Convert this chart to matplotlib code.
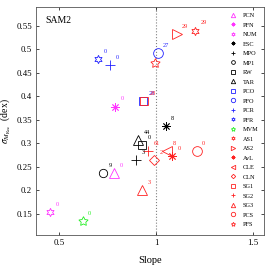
import matplotlib.pyplot as plt

# finders, their slope / scatter and the number shown next to each marker
names = ['PCN', 'PFN', 'NUM', 'ESC', 'MPO', 'MP1', 'RW', 'TAR', 'PCO', 'PFO', 'PCR', 'PFR',
         'MVM', 'AS1', 'AS2', 'AvL', 'CLE', 'CLN', 'SG1', 'SG2', 'SG3', 'PCS', 'PFS']
slope = [0.783, 0.787, 0.452, 1.048, 0.895, 0.724, 0.925, 0.907, 0.930, 1.007, 0.761, 0.701,
         0.620, 1.200, 1.105, 1.082, 1.054, 0.990, 0.935, 0.959, 0.925, 1.208, 0.993]
sigma = [0.237, 0.378, 0.154, 0.336, 0.265, 0.236, 0.297, 0.307, 0.390, 0.492, 0.466, 0.479,
         0.1345, 0.540, 0.532, 0.273, 0.283, 0.265, 0.390, 0.283, 0.200, 0.283, 0.472]
counts = ['0', '0', '0', '8', '3', '9', '0', '44', '28', '27', '0', '0',
          '0', '29', '29', '0', '8', '2', '28', '61', '3', '0', '']

mag = '#ff33ff'
blu = '#2222ff'
grn = '#22ee22'
red = '#ff2222'
colors = [mag, mag, mag, 'k', 'k', 'k', 'k', 'k', blu, blu, blu, blu,
          grn, red, red, red, red, red, red, red, red, red, red]
ast = (8, 2, 0)
hexa = (6, 1, 0)
markers = ['^', ast, hexa, ast, '+', 'o', 's', '^', 's', 'o', '+', hexa,
           (5, 1, 0), hexa, '>', ast, '<', 'D', 's', '+', '^', 'o', (5, 1, 0)]
sizes = [7, 6, 6, 6, 7, 6, 6, 7, 6, 7, 7, 6, 7, 6, 7, 6, 7, 5, 6, 7, 7, 7, 7]

plt.rcParams['font.family'] = ['Liberation Serif', 'DejaVu Serif']
plt.rcParams['mathtext.fontset'] = 'stix'

fig = plt.figure(figsize=(2.69, 2.66), dpi=100)
ax = fig.add_axes([0.134, 0.1165, 0.847, 0.857])

for i in range(len(names)):
    filled = markers[i] in ('+',) or markers[i] == ast
    ax.plot(slope[i], sigma[i], linestyle='none', marker=markers[i], ms=sizes[i],
            mec=colors[i], mfc=colors[i] if filled else 'none', mew=0.6, label=names[i])
    if counts[i]:
        ax.annotate(counts[i], (slope[i], sigma[i]), xytext=(4, 4.5), textcoords='offset points',
                    fontsize=4.5, color=colors[i])

ax.axvline(1, color='gray', linestyle=':', linewidth=0.8, zorder=0)
ax.text(0.43, 0.555, 'SAM2', fontsize=7)

ax.set_xlim(0.38, 1.555)
ax.set_ylim(0.105, 0.59)
ax.set_xticks([0.5, 1, 1.5])
ax.set_xticklabels(['0.5', '1', '1.5'])
ax.set_yticks([0.15, 0.2, 0.25, 0.3, 0.35, 0.4, 0.45, 0.5, 0.55])
ax.set_yticklabels(['0.15', '0.2', '0.25', '0.3', '0.35', '0.4', '0.45', '0.5', '0.55'])
ax.tick_params(direction='in', length=2, width=0.5, labelsize=6.3, top=True, right=True, pad=3)
for s in ax.spines.values():
    s.set_linewidth(0.6)
    s.set_color('#555555')
ax.set_xlabel('Slope', fontsize=7.5, labelpad=6)
ax.set_ylabel(r'$\sigma_{M_{\rm Rec}}$  (dex)', fontsize=7, labelpad=2)

leg = ax.legend(loc='upper right', frameon=False, fontsize=4.5, markerscale=0.45,
                handlelength=1.2, labelspacing=0.66, handletextpad=1.0,
                borderaxespad=0.5, numpoints=1)

plt.savefig('out.png', dpi=100)
